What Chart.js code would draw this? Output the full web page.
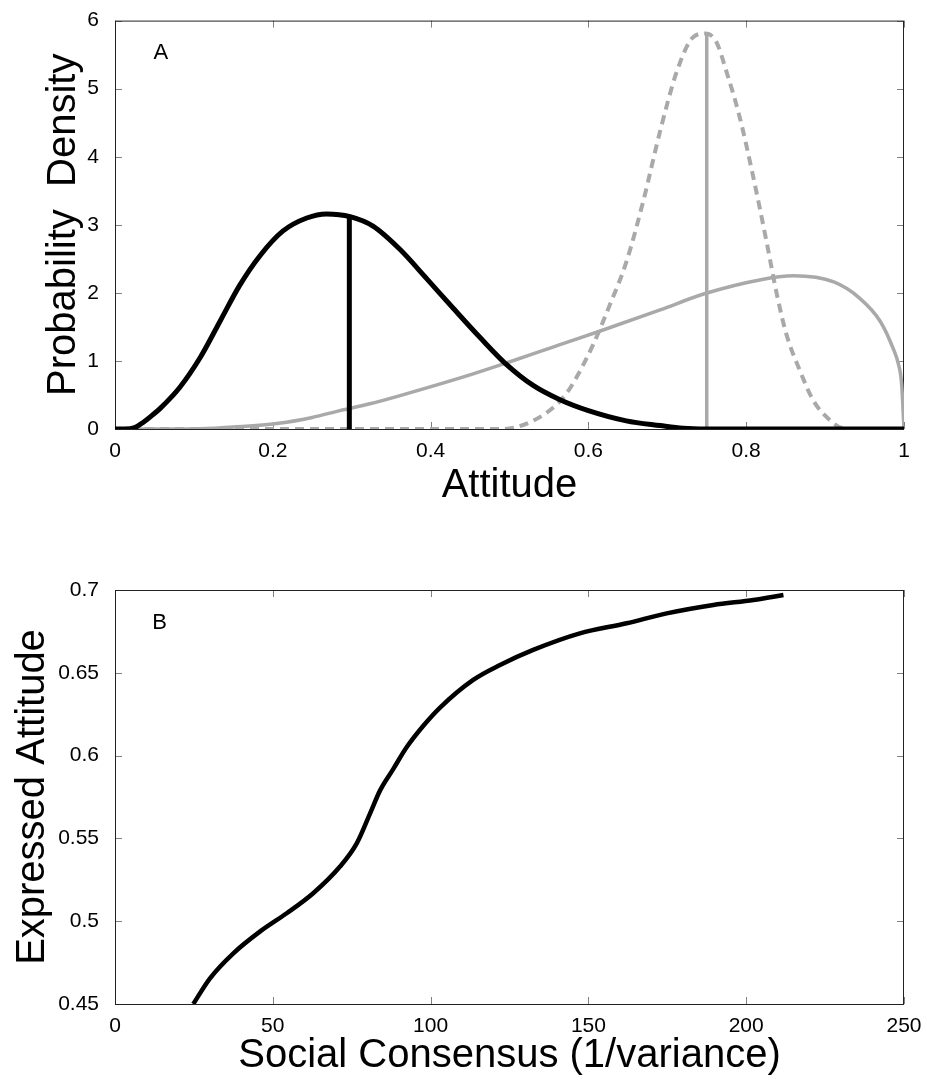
<!DOCTYPE html>
<html>
<head>
<meta charset="utf-8">
<script src="https://cdn.jsdelivr.net/npm/chart.js@4.4.1/dist/chart.umd.min.js"></script>
<style>
    body { margin: 0; background: #fff; }
    #wrap { position: relative; width: 927px; height: 1082px; }
    #top { position: absolute; left: 0; top: 0; }
    #bottom { position: absolute; left: 0; top: 540px; }
</style>
</head>
<body>
<div id="wrap">
    <canvas id="top" width="927" height="540"></canvas>
    <canvas id="bottom" width="927" height="542"></canvas>
</div>
<script>
// Panel A: densities over attitude
var attXTicks = [0, 0.2, 0.4, 0.6, 0.8, 1];
var densYTicks = [0, 1, 2, 3, 4, 5, 6];

var blackX = [0, 0.012, 0.025, 0.036, 0.047, 0.057, 0.082, 0.108, 0.133, 0.158, 0.184, 0.213, 0.243, 0.268, 0.298, 0.327, 0.361, 0.395, 0.429, 0.463, 0.496, 0.530, 0.564, 0.600, 0.648, 0.691, 0.72, 0.75, 1];
var blackY = [0, 0, 0.02, 0.10, 0.20, 0.30, 0.61, 1.05, 1.58, 2.11, 2.55, 2.91, 3.10, 3.16, 3.12, 2.98, 2.64, 2.21, 1.77, 1.34, 0.95, 0.64, 0.43, 0.27, 0.12, 0.05, 0.01, 0, 0];

var graySolidX = [0, 0.10, 0.15, 0.205, 0.25, 0.285, 0.323, 0.370, 0.454, 0.496, 0.539, 0.564, 0.615, 0.691, 0.748, 0.817, 0.860, 0.911, 0.944, 0.970, 0.986, 0.993, 0.997, 1];
var graySolidY = [0, 0, 0.03, 0.08, 0.17, 0.27, 0.37, 0.52, 0.81, 0.97, 1.14, 1.24, 1.44, 1.75, 1.99, 2.19, 2.25, 2.16, 1.92, 1.58, 1.19, 0.95, 0.66, 0];

var grayDashX = [0, 0.49, 0.522, 0.556, 0.572, 0.585, 0.606, 0.627, 0.648, 0.670, 0.691, 0.712, 0.733, 0.748, 0.762, 0.775, 0.792, 0.809, 0.826, 0.839, 0.851, 0.868, 0.885, 0.906, 0.92, 0.935, 1];
var grayDashY = [0, 0, 0.08, 0.32, 0.52, 0.76, 1.24, 1.82, 2.45, 3.37, 4.38, 5.25, 5.76, 5.81, 5.69, 5.25, 4.57, 3.70, 2.74, 1.97, 1.39, 0.86, 0.42, 0.13, 0.02, 0, 0];

// vertical markers (x, top of line)
var blackMarkX = 0.297, blackMarkTop = 3.12;
var grayMarkX = 0.75, grayMarkTop = 5.8;

// Panel B: expressed attitude vs consensus
var consXTicks = [0, 50, 100, 150, 200, 250];
var exprYTicks = [0.45, 0.5, 0.55, 0.6, 0.65, 0.7];
var consX = [24.8, 30.1, 37.5, 45.9, 54.4, 62.8, 71.3, 76.6, 80.8, 84.0, 88.2, 92.4, 97.7, 103.0, 113.5, 122.0, 132.5, 147.3, 162.1, 174.8, 189.6, 202.3, 211.8];
var exprY = [0.450, 0.4655, 0.4806, 0.4937, 0.5048, 0.5169, 0.533, 0.547, 0.565, 0.579, 0.592, 0.605, 0.618, 0.629, 0.6457, 0.6547, 0.6638, 0.6738, 0.6799, 0.6859, 0.691, 0.694, 0.697];

var FONT = '"Liberation Sans", Arial, Helvetica, sans-serif';
var GRAY = '#a9a9a9';

function pts(xs, ys) {
    return xs.map(function (x, i) { return { x: x, y: ys[i] }; });
}

function fmt(v) {
    return String(Number(v.toFixed(2)));
}

// MATLAB-like box with inward ticks on all sides plus the panel letter
var frame = {
    id: 'frame',
    beforeDatasetsDraw: function (chart, args, opts) {
        var ctx = chart.ctx, a = chart.chartArea;
        var xs = chart.scales.x, ys = chart.scales.y;
        ctx.save();
        ctx.strokeStyle = '#808080';
        ctx.lineWidth = 1;
        ctx.beginPath();
        xs.ticks.forEach(function (t) {
            var px = Math.round(xs.getPixelForValue(t.value)) + 0.5;
            ctx.moveTo(px, a.bottom); ctx.lineTo(px, a.bottom - 7);
            ctx.moveTo(px, a.top); ctx.lineTo(px, a.top + 7);
        });
        ys.ticks.forEach(function (t) {
            var py = Math.round(ys.getPixelForValue(t.value)) + 0.5;
            ctx.moveTo(a.left, py); ctx.lineTo(a.left + 7, py);
            ctx.moveTo(a.right, py); ctx.lineTo(a.right - 7, py);
        });
        ctx.stroke();
        ctx.strokeStyle = '#222';
        ctx.strokeRect(a.left + 0.5, a.top + 0.5, a.right - a.left - 1, a.bottom - a.top);
        ctx.fillStyle = '#000';
        ctx.font = '22px ' + FONT;
        ctx.textAlign = 'center';
        ctx.textBaseline = 'middle';
        ctx.fillText(opts.text, xs.getPixelForValue(opts.x), ys.getPixelForValue(opts.y));
        ctx.restore();
    }
};

function axes(xTicks, yTicks, xTitle, yTitle, canvasH, areaBottom, xPad, yPad) {
    return {
        x: {
            type: 'linear', min: xTicks[0], max: xTicks[xTicks.length - 1],
            afterBuildTicks: function (s) { s.ticks = xTicks.map(function (v) { return { value: v }; }); },
            afterFit: function (s) { s.height = canvasH - areaBottom; },
            grid: { display: false }, border: { display: false },
            ticks: { color: '#000', padding: 2, font: { family: FONT, size: 21 }, callback: fmt, maxRotation: 0 },
            title: { display: true, text: xTitle, color: '#000', font: { family: FONT, size: 40, lineHeight: 1.2 }, padding: { top: 0, bottom: xPad } }
        },
        y: {
            type: 'linear', min: yTicks[0], max: yTicks[yTicks.length - 1],
            afterBuildTicks: function (s) { s.ticks = yTicks.map(function (v) { return { value: v }; }); },
            afterFit: function (s) { s.width = 115; },
            grid: { display: false }, border: { display: false },
            ticks: { color: '#000', padding: 8, font: { family: FONT, size: 21 }, callback: fmt },
            title: { display: true, text: yTitle, color: '#000', font: { family: FONT, size: 40, lineHeight: 1.2 }, padding: { top: yPad, bottom: 0 } }
        }
    };
}

var base = { showLine: true, pointRadius: 0, pointHoverRadius: 0, fill: false };

new Chart(document.getElementById('top').getContext('2d'), {
    type: 'scatter',
    data: {
        datasets: [
            Object.assign({ data: pts(blackX, blackY), borderColor: '#000', borderWidth: 5, cubicInterpolationMode: 'monotone' }, base),
            Object.assign({ data: [{ x: blackMarkX, y: 0 }, { x: blackMarkX, y: blackMarkTop }], borderColor: '#000', borderWidth: 5 }, base),
            Object.assign({ data: [{ x: grayMarkX, y: 0 }, { x: grayMarkX, y: grayMarkTop }], borderColor: GRAY, borderWidth: 3.5 }, base),
            Object.assign({ data: pts(graySolidX, graySolidY), borderColor: GRAY, borderWidth: 3.5, cubicInterpolationMode: 'monotone' }, base),
            Object.assign({ data: pts(grayDashX, grayDashY), borderColor: GRAY, borderWidth: 4, borderDash: [9, 6], cubicInterpolationMode: 'monotone' }, base)
        ]
    },
    options: {
        responsive: false, animation: false,
        layout: { padding: { top: 15, right: 23, left: 0, bottom: 0 } },
        plugins: { legend: { display: false }, tooltip: { enabled: false }, frame: { text: 'A', x: 0.058, y: 5.53 } },
        scales: axes(attXTicks, densYTicks, 'Attitude', 'Probability  Density', 540, 429, 30, 40)
    },
    plugins: [frame]
});

new Chart(document.getElementById('bottom').getContext('2d'), {
    type: 'scatter',
    data: {
        datasets: [
            Object.assign({ data: pts(consX, exprY), borderColor: '#000', borderWidth: 4.5, cubicInterpolationMode: 'monotone' }, base)
        ]
    },
    options: {
        responsive: false, animation: false,
        layout: { padding: { top: 50, right: 23, left: 0, bottom: 0 } },
        plugins: { legend: { display: false }, tooltip: { enabled: false }, frame: { text: 'B', x: 14.1, y: 0.68 } },
        scales: axes(consXTicks, exprYTicks, 'Social Consensus (1/variance)', 'Expressed Attitude', 542, 464, 2, 9)
    },
    plugins: [frame]
});
</script>
</body>
</html>
